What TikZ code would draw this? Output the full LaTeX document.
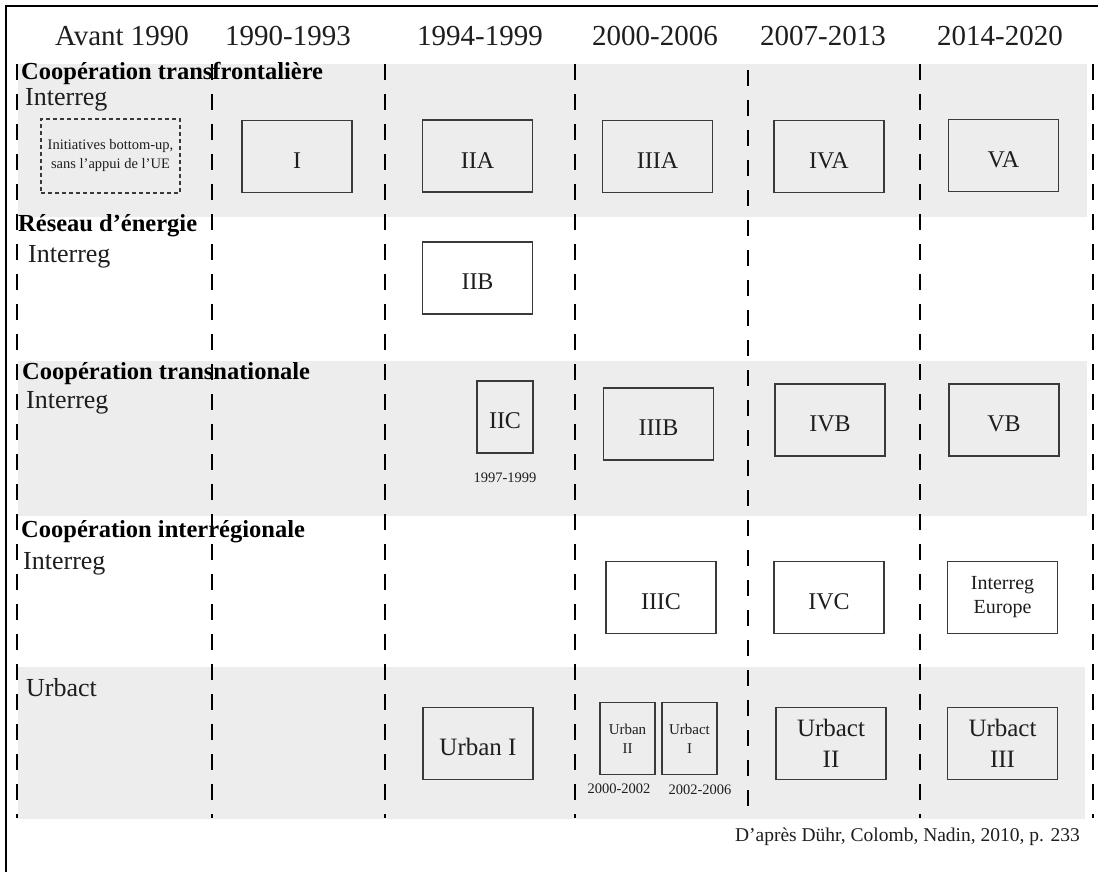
\documentclass[tikz,border=0pt]{standalone}
\usepackage{fontspec}
\setmainfont{Liberation Serif}
\definecolor{band}{HTML}{EDEDED}
\definecolor{boxc}{HTML}{3A3A3A}
\definecolor{txt}{HTML}{1E1E1E}
\begin{document}
\begin{tikzpicture}[x=1pt,y=-1pt,
  hdr/.style={font=\fontsize{29}{32}\selectfont, text=txt, inner sep=0pt},
  rowtitle/.style={font=\bfseries\fontsize{24.5}{28}\selectfont, anchor=west, inner sep=0pt, text=black},
  subt/.style={font=\fontsize{26}{28}\selectfont, anchor=west, inner sep=0pt, text=txt},
  prog/.style={draw=boxc, line width=1.4pt, inner sep=0pt, align=center, text=txt,
    font=\fontsize{24}{30}\selectfont, minimum width=110pt, minimum height=72pt},
  low/.style={execute at begin node={\rule{0pt}{24pt}}},
  narrow/.style={prog, minimum width=55pt, font=\fontsize{15}{19}\selectfont},
  small/.style={font=\fontsize{14.5}{17}\selectfont, inner sep=0pt, text=txt},
  sep/.style={line width=2.5pt, dash pattern=on 16pt off 14pt, black}
]
\useasboundingbox (0,0) rectangle (1098,872);
\fill[white] (0,0) rectangle (1098,872);
% bands
\fill[band] (18,64) rectangle (1087,217);
\fill[band] (18,361) rectangle (1087,516);
\fill[band] (18,667) rectangle (1085,819);
% frame
\draw[line width=2pt] (6,872) -- (6,6) -- (1098,6);
% headers
\node[hdr] (h0) at (122,36) {Avant 1990};
\node[hdr] (h1) at (288,36) {1990-1993};
\node[hdr] (h2) at (480,36) {1994-1999};
\node[hdr] (h3) at (655,36) {2000-2006};
\node[hdr] (h4) at (823,36) {2007-2013};
\node[hdr] (h5) at (1000,36) {2014-2020};
% row titles
\node[rowtitle] (r1) at (21,73) {Coopération transfrontalière};
\node[subt] (s1) at (25,100) {Interreg};
\node[rowtitle] (r2) at (18,226) {Réseau d’énergie};
\node[subt] (s2) at (28,257) {Interreg};
\node[rowtitle] (r3) at (22,374) {Coopération transnationale};
\node[subt] (s3) at (26,403) {Interreg};
\node[rowtitle] (r4) at (21,532) {Coopération interrégionale};
\node[subt] (s4) at (23,564) {Interreg};
\node[subt] (s5) at (26,688) {Urbact};
% row 1
\node[prog, dashed, line width=1.2pt, dash pattern=on 4pt off 3pt, minimum width=139pt, minimum height=74pt,
  font=\fontsize{14.5}{19}\selectfont] (init) at (110.5,156) {Initiatives bottom-up,\\sans l’appui de l’UE};
\node[prog, low] (pI) at (297,156.5) {I};
\node[prog, low] (pIIA) at (477.5,156) {IIA};
\node[prog, low] (pIIIA) at (657.5,156.5) {IIIA};
\node[prog, low] (pIVA) at (829,156.5) {IVA};
\node[prog, low] (pVA) at (1003.5,155.5) {VA};
% row 2
\node[prog, low] (pIIB) at (477.5,278) {IIB};
% row 3
\node[prog, low, minimum width=56pt] (pIIC) at (505,417) {IIC};
\node[small] (dIIC) at (505,478) {1997-1999};
\node[prog, low] (pIIIB) at (658.5,424) {IIIB};
\node[prog, low] (pIVB) at (830,420) {IVB};
\node[prog, low] (pVB) at (1004,420) {VB};
% row 4
\node[prog, low] (pIIIC) at (661,597.5) {IIIC};
\node[prog, low] (pIVC) at (829,597.5) {IVC};
\node[prog, font=\fontsize{20}{24}\selectfont] (pIE) at (1002.5,597.5) {Interreg\\Europe};
% row 5
\node[prog, low, font=\fontsize{25}{30}\selectfont] (pUI) at (478,743.5) {Urban I};
\node[narrow] (pUII) at (627.5,738.5) {Urban\\II};
\node[narrow] (pUAI) at (689.5,738.5) {Urbact\\I};
\node[small] (dUII) at (619,789) {2000-2002};
\node[small] (dUAI) at (700,790) {2002-2006};
\node[prog, font=\fontsize{25}{31}\selectfont] (pUAII) at (831,743.5) {Urbact\\II};
\node[prog, font=\fontsize{25}{31}\selectfont] (pUAIII) at (1002.5,743.5) {Urbact\\III};
% credit
\node[font=\fontsize{19.5}{22}\selectfont, text=txt, anchor=east, inner sep=0pt] (credit) at (1080,837)
  {D’après Dühr, Colomb, Nadin, 2010, p. 233};
% separators
\foreach \i/\x/\t in {0/17/64, 1/212/64, 2/385/64, 3/575/64, 4/748/70, 5/920/64, 6/1093/64}{
  \coordinate (t\i) at (\x,\t);
  \coordinate (b\i) at (\x,818);
  \draw[sep] (t\i) -- (b\i);
}
\end{tikzpicture}
\end{document}
